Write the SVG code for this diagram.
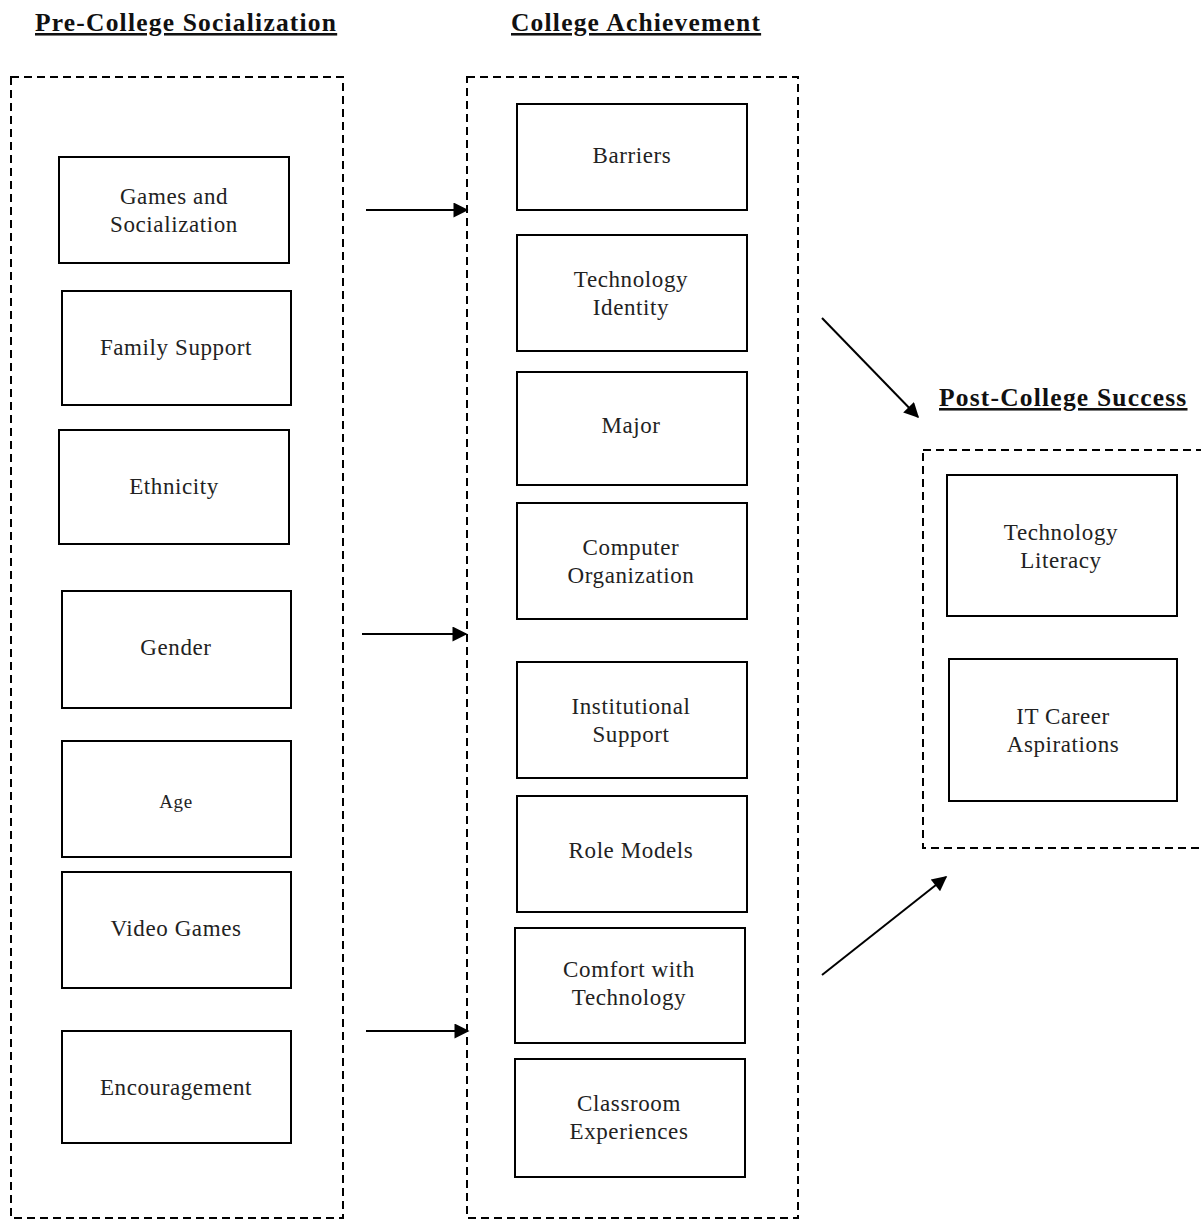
<svg xmlns="http://www.w3.org/2000/svg" width="1201" height="1220" viewBox="0 0 1201 1220">
<style>
.grp{fill:none;stroke:#000;stroke-width:2;stroke-dasharray:8 5}
.box{fill:#fff;stroke:#000;stroke-width:2}
.t{font-family:"Liberation Serif","Times New Roman",serif;font-size:23px;letter-spacing:0.6px;fill:#222;text-anchor:middle}
.h{font-family:"Liberation Serif","Times New Roman",serif;font-size:25.5px;font-weight:bold;letter-spacing:1.2px;fill:#111;text-decoration:underline}
.c{stroke:#000;stroke-width:2;fill:none;marker-end:url(#ah)}
</style>
<defs>
<marker id="ah" viewBox="0 0 10 10" refX="9" refY="5" markerWidth="18" markerHeight="15" markerUnits="userSpaceOnUse" orient="auto">
<path d="M0,0 L10,5 L0,10 Z" fill="#000"/>
</marker>
</defs>
<rect width="1201" height="1220" fill="#fff"/>

<g id="titles">
<text class="h" x="35" y="31">Pre-College Socialization</text>
<text class="h" x="511" y="31">College Achievement</text>
<text class="h" x="939" y="406">Post-College Success</text>
</g>

<g id="groups">
<rect id="grp-pre" class="grp" x="11" y="77" width="332" height="1141"/>
<rect id="grp-college" class="grp" x="467" y="77" width="331" height="1141"/>
<rect id="grp-post" class="grp" x="923" y="450" width="290" height="398"/>
</g>

<g id="n-games"><rect class="box" x="59" y="157" width="230" height="106"/><text class="t" x="174" y="204">Games and</text><text class="t" x="174" y="232">Socialization</text></g>
<g id="n-family"><rect class="box" x="62" y="291" width="229" height="114"/><text class="t" x="176" y="355">Family Support</text></g>
<g id="n-ethnicity"><rect class="box" x="59" y="430" width="230" height="114"/><text class="t" x="174" y="494">Ethnicity</text></g>
<g id="n-gender"><rect class="box" x="62" y="591" width="229" height="117"/><text class="t" x="176" y="655">Gender</text></g>
<g id="n-age"><rect class="box" x="62" y="741" width="229" height="116"/><text class="t" x="176" y="808" style="font-size:19px">Age</text></g>
<g id="n-video"><rect class="box" x="62" y="872" width="229" height="116"/><text class="t" x="176" y="936">Video Games</text></g>
<g id="n-encouragement"><rect class="box" x="62" y="1031" width="229" height="112"/><text class="t" x="176" y="1095">Encouragement</text></g>

<g id="n-barriers"><rect class="box" x="517" y="104" width="230" height="106"/><text class="t" x="632" y="163">Barriers</text></g>
<g id="n-techid"><rect class="box" x="517" y="235" width="230" height="116"/><text class="t" x="631" y="287">Technology</text><text class="t" x="631" y="315">Identity</text></g>
<g id="n-major"><rect class="box" x="517" y="372" width="230" height="113"/><text class="t" x="631" y="433">Major</text></g>
<g id="n-comporg"><rect class="box" x="517" y="503" width="230" height="116"/><text class="t" x="631" y="555">Computer</text><text class="t" x="631" y="583">Organization</text></g>
<g id="n-inst"><rect class="box" x="517" y="662" width="230" height="116"/><text class="t" x="631" y="714">Institutional</text><text class="t" x="631" y="742">Support</text></g>
<g id="n-role"><rect class="box" x="517" y="796" width="230" height="116"/><text class="t" x="631" y="858">Role Models</text></g>
<g id="n-comfort"><rect class="box" x="515" y="928" width="230" height="115"/><text class="t" x="629" y="977">Comfort with</text><text class="t" x="629" y="1005">Technology</text></g>
<g id="n-classroom"><rect class="box" x="515" y="1059" width="230" height="118"/><text class="t" x="629" y="1111">Classroom</text><text class="t" x="629" y="1139">Experiences</text></g>

<g id="n-techlit"><rect class="box" x="947" y="475" width="230" height="141"/><text class="t" x="1061" y="540">Technology</text><text class="t" x="1061" y="568">Literacy</text></g>
<g id="n-itcareer"><rect class="box" x="949" y="659" width="228" height="142"/><text class="t" x="1063" y="724">IT Career</text><text class="t" x="1063" y="752">Aspirations</text></g>

<g id="connectors">
<line class="c" x1="366" y1="210" x2="467" y2="210"/>
<line class="c" x1="362" y1="634" x2="466" y2="634"/>
<line class="c" x1="366" y1="1031" x2="468" y2="1031"/>
<line class="c" x1="822" y1="318" x2="918" y2="417"/>
<line class="c" x1="822" y1="975" x2="946" y2="877"/>
</g>
</svg>
